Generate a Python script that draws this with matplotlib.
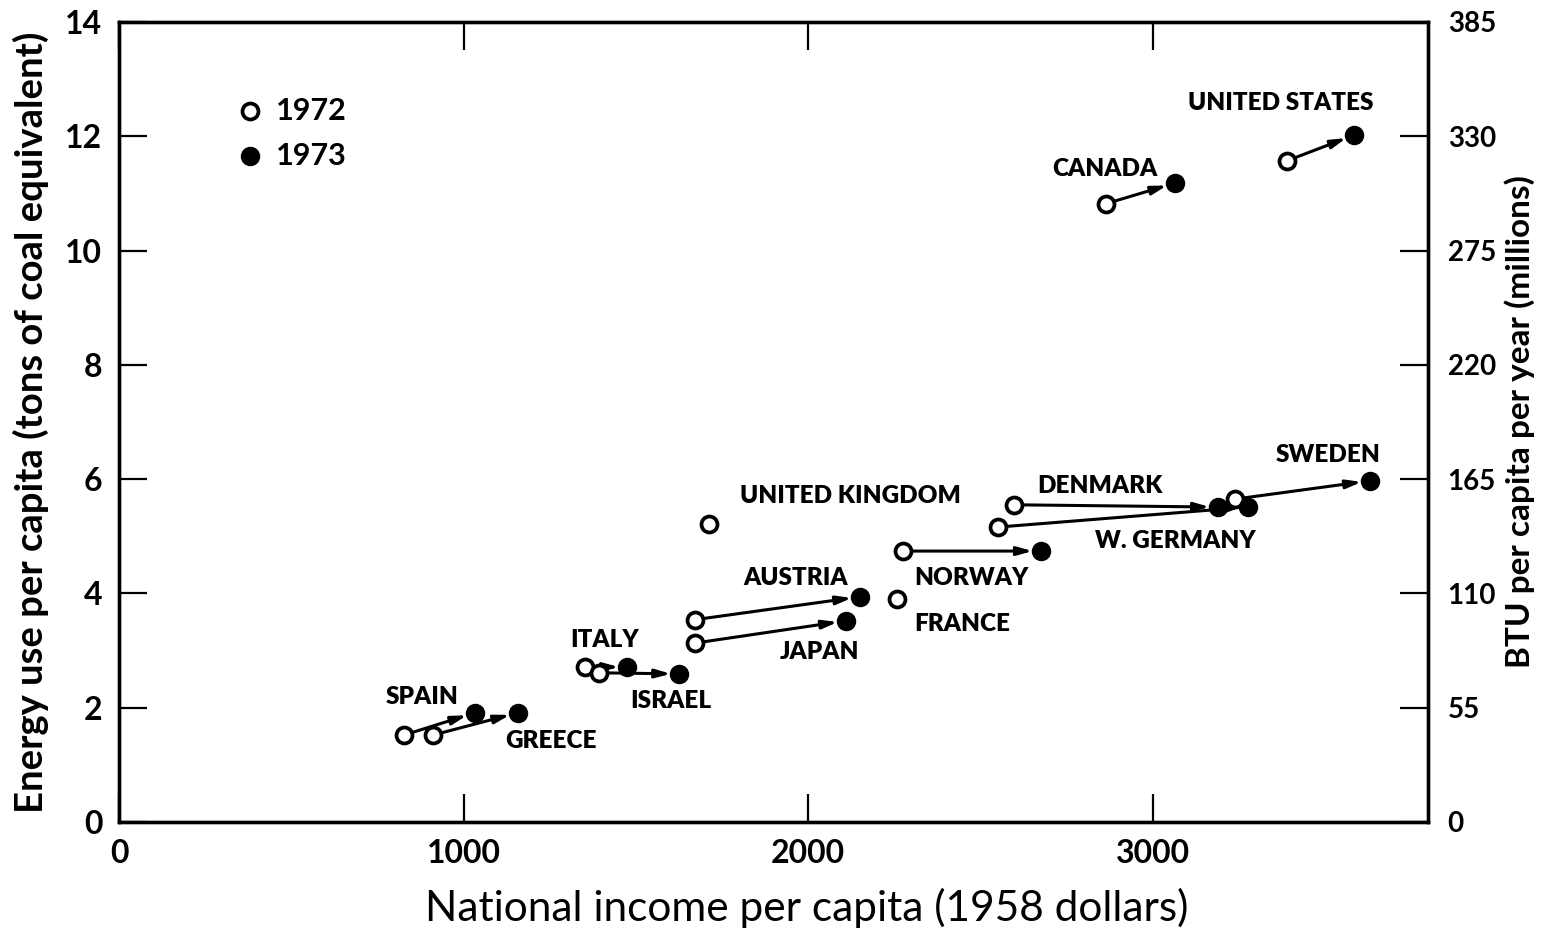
import matplotlib.pyplot as plt

plt.rcParams["font.family"] = ["Lato", "DejaVu Sans"]

# Countries with both years (income in 1958 dollars, energy in tons coal eq.)
countries = ["UNITED STATES", "CANADA", "SWEDEN", "DENMARK", "W. GERMANY",
             "NORWAY", "AUSTRIA", "JAPAN", "ITALY", "ISRAEL", "SPAIN", "GREECE"]
income_1972 = [3390, 2865, 3240, 2598, 2552, 2276, 1672, 1672, 1353, 1393, 827, 911]
energy_1972 = [11.57, 10.82, 5.65, 5.55, 5.16, 4.74, 3.54, 3.13, 2.71, 2.61, 1.52, 1.52]
income_1973 = [3585, 3065, 3631, 3190, 3277, 2676, 2151, 2110, 1475, 1626, 1033, 1158]
energy_1973 = [12.02, 11.18, 5.97, 5.51, 5.51, 4.74, 3.94, 3.52, 2.71, 2.59, 1.91, 1.91]

# Countries shown for 1972 only
single_countries = ["UNITED KINGDOM", "FRANCE"]
single_income = [1713, 2258]
single_energy = [5.22, 3.90]

left_ticks = [0, 2, 4, 6, 8, 10, 12, 14]
right_ticks = [0, 55, 110, 165, 220, 275, 330, 385]
x_ticks = [0, 1000, 2000, 3000]

# label offsets in pixels from the marker they belong to
label_offsets = {
    "UNITED STATES": (-73, 32), "CANADA": (-70, 14), "SWEDEN": (-42, 26),
    "DENMARK": (-118, 21), "W. GERMANY": (-73, -34), "NORWAY": (-70, -27),
    "AUSTRIA": (-64, 19), "JAPAN": (-26, -31), "ITALY": (-23, 27),
    "ISRAEL": (-8, -27), "SPAIN": (-53, 16), "GREECE": (33, -28),
    "UNITED KINGDOM": (141, 28), "FRANCE": (65, -25),
}

fig = plt.figure(figsize=(15.42, 9.34), dpi=100)
ax = fig.add_axes([0.0772, 0.12, 0.849, 0.8565])
ax.set_xlim(0, 3800)
ax.set_ylim(0, 14)

open_style = dict(marker="o", ms=11.5, mfc="white", mec="black", mew=2.7,
                  ls="none", zorder=4)
fill_style = dict(marker="o", ms=13, mfc="black", mec="black", ls="none", zorder=4)

for x0, y0, x1, y1 in zip(income_1972, energy_1972, income_1973, energy_1973):
    ax.annotate("", xy=(x1, y1), xytext=(x0, y0),
                arrowprops=dict(arrowstyle="-|>,head_length=0.9,head_width=0.25",
                                color="black", lw=2.2, shrinkA=5, shrinkB=6),
                zorder=3)

ax.plot(income_1972, energy_1972, **open_style)
ax.plot(single_income, single_energy, **open_style)
ax.plot(income_1973, energy_1973, **fill_style)

label_style = dict(textcoords="offset pixels", ha="center", va="center",
                   fontsize=17.5, fontweight="heavy")
for name, x, y in zip(countries, income_1973, energy_1973):
    ax.annotate(name, (x, y), xytext=label_offsets[name], **label_style)
for name, x, y in zip(single_countries, single_income, single_energy):
    ax.annotate(name, (x, y), xytext=label_offsets[name], **label_style)

# legend drawn by hand
ax.plot([380], [12.45], **open_style)
ax.plot([380], [11.66], **fill_style)
ax.text(455, 12.45, "1972", fontsize=22, fontweight="bold", va="center")
ax.text(455, 11.66, "1973", fontsize=22, fontweight="bold", va="center")

ax.set_xticks(x_ticks)
ax.set_yticks(left_ticks)
ax.tick_params(direction="in", length=20, width=1.6, labelsize=23, pad=12,
               top=True, labeltop=False)
for lab in ax.get_xticklabels() + ax.get_yticklabels():
    lab.set_fontweight("bold")
for s in ax.spines.values():
    s.set_linewidth(2.4)

ax.set_xlabel("National income per capita (1958 dollars)", fontsize=30.5)
ax.xaxis.set_label_coords(0.525, -0.082)
ax.set_ylabel("Energy use per capita (tons of coal equivalent)", fontsize=27.5,
              fontweight="bold", labelpad=12)

ax2 = ax.twinx()
ax2.set_ylim(0, 385)
ax2.set_yticks(right_ticks)
ax2.tick_params(direction="in", length=20, width=1.6, labelsize=20, pad=14)
for lab in ax2.get_yticklabels():
    lab.set_fontweight("bold")
ax2.set_ylabel("BTU per capita per year (millions)", fontsize=24,
               fontweight="bold", labelpad=6)
for s in ax2.spines.values():
    s.set_linewidth(2.4)

fig.savefig("out.png", dpi=100)
